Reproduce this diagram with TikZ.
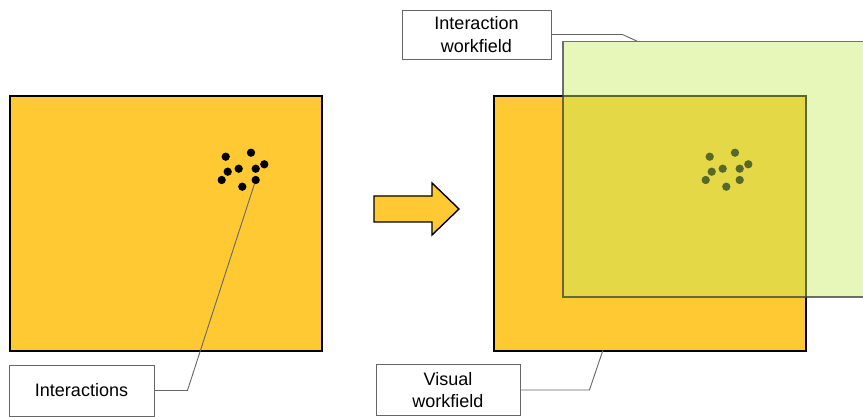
\documentclass[tikz,border=0pt]{standalone}
\usepackage{fontspec}
\setmainfont{Liberation Sans}
\definecolor{fieldorange}{RGB}{255,201,51}
\definecolor{fieldgreen}{RGB}{198,237,96}
\tikzset{
  workfield/.style={draw=black, line width=1.6pt, fill=fieldorange,
    minimum width=312pt, minimum height=255pt, inner sep=0pt, anchor=north west},
  interfield/.style={draw=black!75, line width=1.5pt, fill=fieldgreen,
    fill opacity=0.44, draw opacity=0.75,
    minimum width=312pt, minimum height=255pt, inner sep=0pt, anchor=north west},
  dot/.style={circle, fill=black, minimum size=8.3pt, inner sep=0pt},
  callout/.style={draw=black!60, line width=0.9pt, fill=white, align=center,
    font=\fontsize{18}{22.5}\selectfont, minimum height=51pt, inner sep=2pt},
  leader/.style={draw=black!60, line width=0.9pt}
}
\begin{document}
\begin{tikzpicture}[x=1pt,y=-1pt]
  \clip (0,0) rectangle (863,417);

  % visual workfield before
  \node[workfield] (before) at (9,95) {};
  % visual workfield after
  \node[workfield] (after) at (493,95) {};

  % interaction points
  \foreach \dx/\dy [count=\i] in {225.7/156.7, 251/152.7, 227.7/171.7,
      238.7/168.7, 255.7/168.7, 264.3/164.3, 221.7/180, 255.7/180, 242.3/186.7}
  {
    \node[dot] (l\i) at (\dx,\dy) {};
    \node[dot] (r\i) at (\dx+484,\dy) {};
  }

  % interaction workfield on top
  \node[interfield] (inter) at (562,41) {};

  % arrow
  \draw[line width=1.4pt, fill=fieldorange, line join=miter]
    (374,196) -- (432,196) -- (432,183) -- (459,209) -- (432,235)
    -- (432,222) -- (374,222) -- cycle;

  % callouts
  \node[callout, minimum width=145pt] (intr) at (81.5,390.5) {Interactions};
  \node[callout, minimum width=144pt] (vis) at (448,390) {Visual\\workfield};
  \node[callout, minimum width=149pt, minimum height=49pt] (intw) at (476.5,34.5)
    {Interaction\\workfield};

  \coordinate (vtip) at (603,350);
  \coordinate (itip) at (636.7,41);

  \draw[leader] (intr.east) -- ++(33,0) -- (l8);
  \draw[leader] (vis.east) -- ++(69,0) -- (vtip);
  \draw[leader] (intw.east) -- ++(71,0) -- (itip);
\end{tikzpicture}
\end{document}
